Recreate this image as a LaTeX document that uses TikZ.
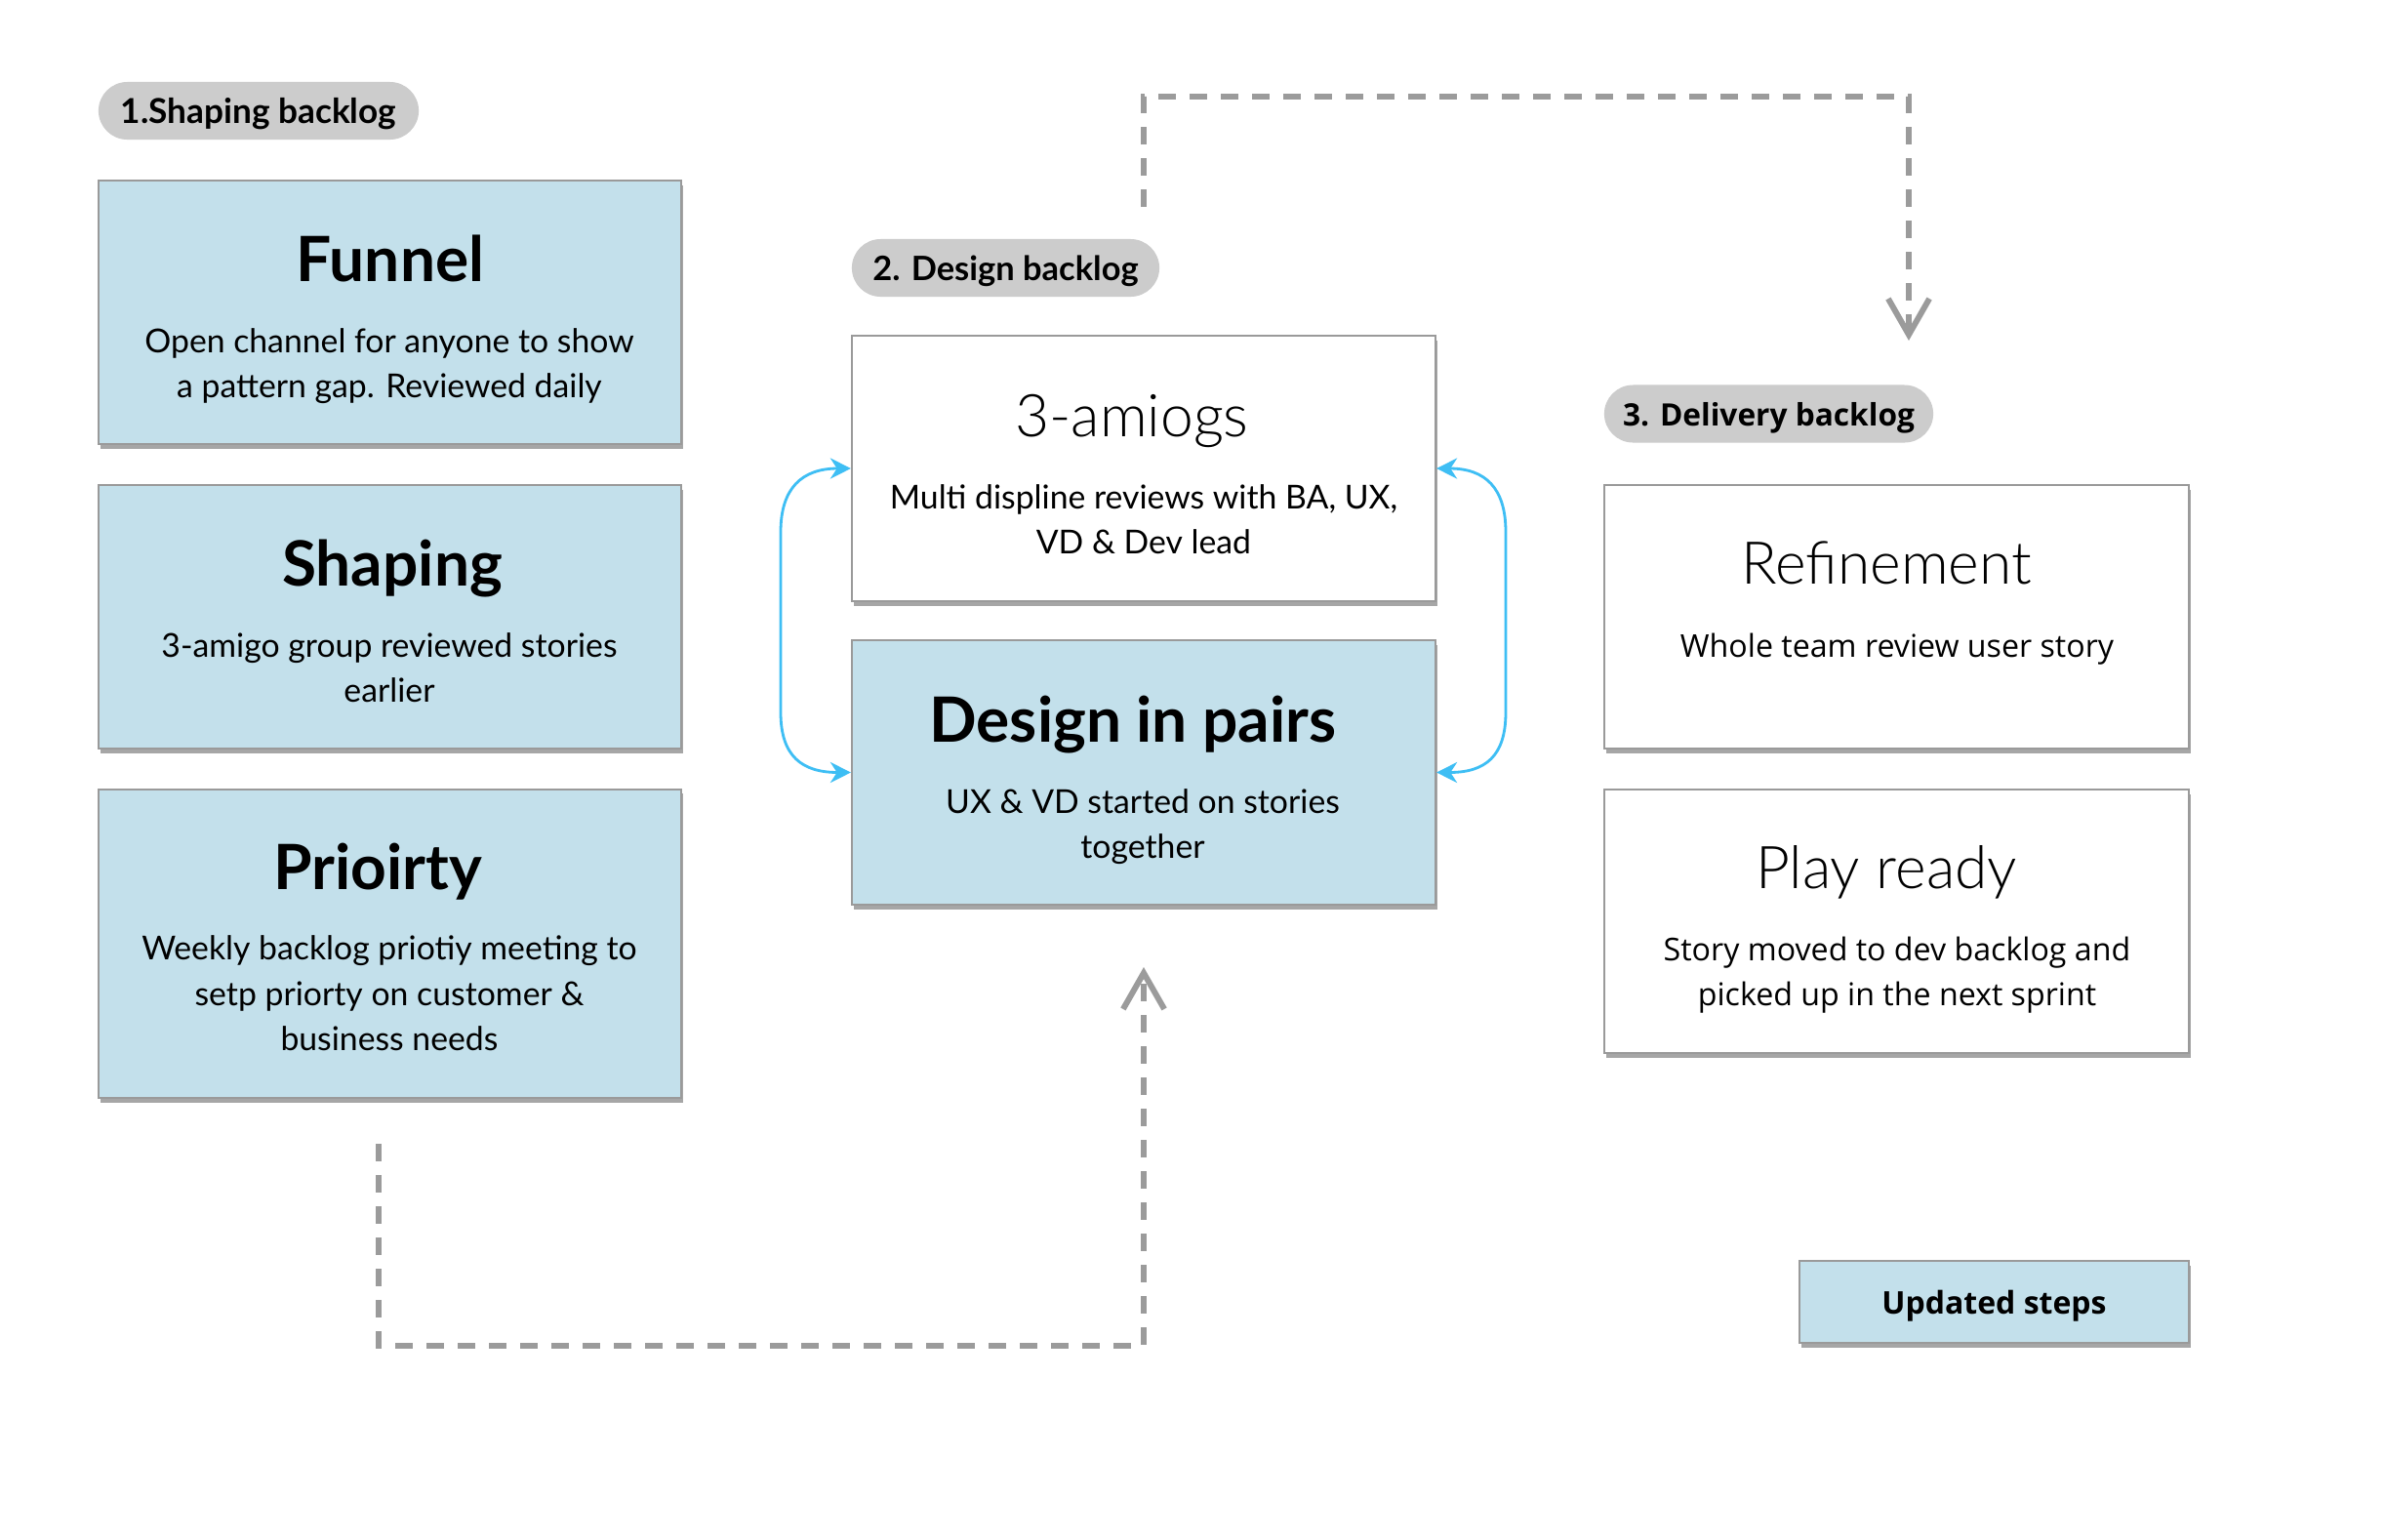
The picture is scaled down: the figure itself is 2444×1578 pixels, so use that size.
\documentclass[tikz,border=0pt]{standalone}
\usepackage{fontspec}
\setmainfont{Lato}
\newfontfamily\rfont{Open Sans}
\newfontfamily\lightfont{Lato Light}
\usetikzlibrary{arrows.meta,shadows}
\definecolor{boxblue}{HTML}{C3E0EB}
\definecolor{edgegray}{HTML}{9A9A9A}
\definecolor{pillgray}{HTML}{CCCCCC}
\definecolor{dashgray}{HTML}{9B9B9B}
\definecolor{loopblue}{HTML}{3EBEF4}
\begin{document}
\begin{tikzpicture}[x=0.01cm,y=-0.01cm,
  card/.style={draw=edgegray, line width=0.5pt, inner sep=0pt,
    drop shadow={shadow xshift=0.5pt, shadow yshift=-1.3pt, opacity=0.35, fill=black}},
  bluecard/.style={card, fill=boxblue},
  whitecard/.style={card, fill=white},
  pill/.style={fill=pillgray, rounded corners=8.4pt, inner sep=0pt, minimum height=0.59cm,
    text depth=0pt, font=\bfseries\fontsize{10}{12}\selectfont},
  boldtitle/.style={font=\bfseries\fontsize{18.2}{22}\selectfont, inner sep=0pt, text depth=0pt},
  lighttitle/.style={font=\lightfont\fontsize{17.2}{22}\selectfont, inner sep=0pt, text depth=0pt},
  bodytext/.style={font=\fontsize{9.6}{13.2}\selectfont, align=center, inner sep=0pt},
  rbodytext/.style={font=\rfont\fontsize{9.15}{13.2}\selectfont, align=center, inner sep=0pt},
  flowdash/.style={draw=dashgray, line width=1.7pt, dash pattern=on 5.1pt off 4pt,
    -{Straight Barb[length=10.5pt,width=12pt,line width=1.7pt]}},
  loop/.style={draw=loopblue, line width=0.8pt, {Stealth[length=6pt,width=6pt]}-{Stealth[length=6pt,width=6pt]}}
]
\useasboundingbox (0,0) rectangle (2444,1578);
\fill[white] (0,0) rectangle (2444,1578);

% column 1
\node[pill, minimum width=3.28cm] (pill1) at (265,113.5) {1.Shaping backlog};
\node[bluecard, minimum width=5.97cm, minimum height=2.70cm] (funnel) at (399.5,320) {};
\node[bluecard, minimum width=5.97cm, minimum height=2.70cm] (shaping) at (399.5,632) {};
\node[bluecard, minimum width=5.97cm, minimum height=3.16cm] (prio) at (399.5,967) {};
\node[boldtitle] (funnelT) at (400,265) {Funnel};
\node[bodytext] (funnelB) at (399,375) {Open channel for anyone to show\\a pattern gap. Reviewed daily};
\node[boldtitle] (shapingT) at (402,577) {Shaping};
\node[bodytext] (shapingB) at (399,684) {3-amigo group reviewed stories\\earlier};
\node[boldtitle] (prioT) at (387,888) {Prioirty};
\node[bodytext] (prioB) at (399,1018) {Weekly backlog priotiy meeting to\\setp priorty on customer \&\\business needs};

% column 2
\node[pill, minimum width=3.15cm, font=\bfseries\fontsize{9.8}{12}\selectfont] (pill2) at (1030.5,274.5) {2. Design backlog};
\node[whitecard, minimum width=5.98cm, minimum height=2.72cm] (amigos) at (1172,480) {};
\node[bluecard, minimum width=5.98cm, minimum height=2.71cm] (dip) at (1172,791.5) {};
\node[lighttitle] (amigosT) at (1160,426) {3-amiogs};
\node[bodytext] (amigosB) at (1172,532) {Multi displine reviews with BA, UX,\\VD \& Dev lead};
\node[boldtitle] (dipT) at (1161,737) {Design in pairs};
\node[bodytext] (dipB) at (1171,847) {UX \& VD started on stories\\together};

% column 3
\node[pill, minimum width=3.37cm, font=\rfont\bfseries\fontsize{9}{12}\selectfont] (pill3) at (1812.5,424) {3. Delivery backlog};
\node[whitecard, minimum width=5.99cm, minimum height=2.70cm] (refine) at (1943.5,632) {};
\node[whitecard, minimum width=5.99cm, minimum height=2.70cm] (play) at (1943.5,944) {};
\node[lighttitle] (refineT) at (1933,577) {Refinement};
\node[rbodytext] (refineB) at (1944,665) {Whole team review user story};
\node[lighttitle] (playT) at (1933,888) {Play ready};
\node[rbodytext] (playB) at (1944,999) {Story moved to dev backlog and\\picked up in the next sprint};

% legend
\node[bluecard, minimum width=3.99cm, minimum height=0.84cm, text depth=0pt,
  font=\rfont\bfseries\fontsize{9.1}{12}\selectfont] (upd) at (2043.5,1334) {Updated steps};

% blue two-way loops
\draw[loop] (amigos.west) .. controls (822,480) and (800,500) .. (800,545)
  -- (800,730) .. controls (800,775) and (822,791.5) .. (dip.west);
\draw[loop] (amigos.east) .. controls (1522,480) and (1543,500) .. (1543,545)
  -- (1543,730) .. controls (1543,775) and (1522,791.5) .. (dip.east);

% dashed flow connectors
\coordinate (topstart) at (1172,212);
\coordinate (toptip) at (1956,349);
\draw[flowdash] (topstart) -- ++(0,-113) -| (toptip);
\coordinate (botstart) at (388,1172);
\coordinate (bottip) at (1172,991);
\draw[flowdash] (botstart) -- ++(0,207) -| (bottip);
\end{tikzpicture}
\end{document}
